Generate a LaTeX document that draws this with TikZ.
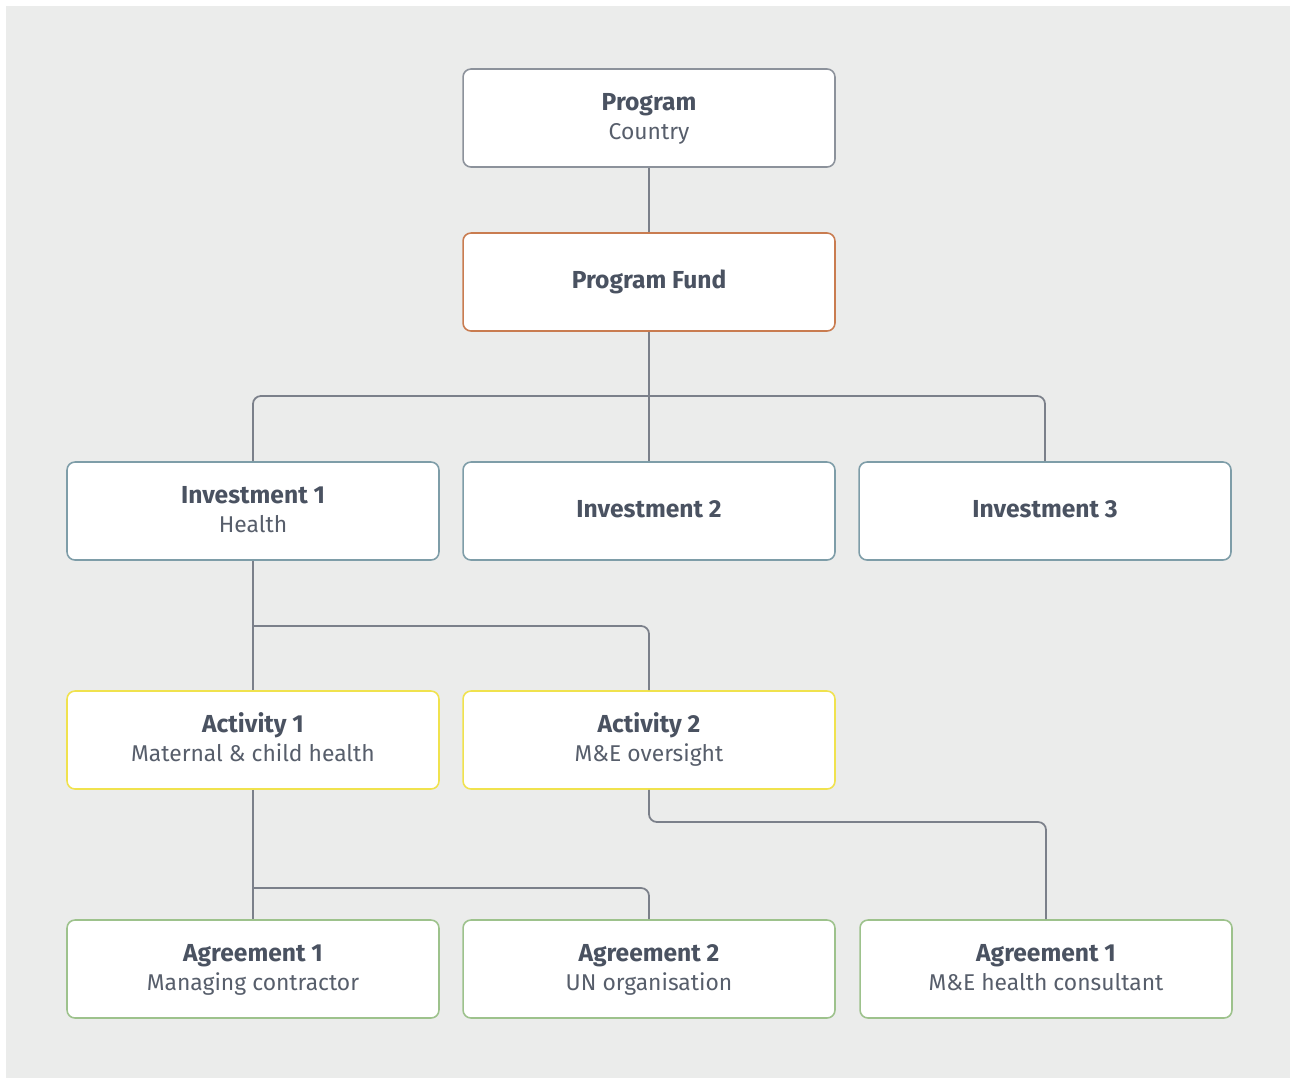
\documentclass[tikz,border=0pt]{standalone}
\usepackage{fontspec}
\setmainfont{Fira Sans}
\usepackage{tikz}

\definecolor{bggray}{HTML}{EBECEB}
\definecolor{linegray}{HTML}{7B808A}
\definecolor{txtdark}{HTML}{4A5261}
\definecolor{txtsub}{HTML}{575E6B}
\definecolor{progcol}{HTML}{8C929B}
\definecolor{fundcol}{HTML}{C97C50}
\definecolor{invcol}{HTML}{7E9DA8}
\definecolor{actcol}{HTML}{F0E24E}
\definecolor{agrcol}{HTML}{9DC28C}

\newcommand{\boxstrut}{\rule[-4.2pt]{0pt}{16.2pt}}

\begin{document}
\begin{tikzpicture}[x=0.02cm,y=-0.02cm,
  every node/.style={font=\fontsize{13}{16.5}\selectfont},
  box/.style={fill=white,rounded corners=4.5pt,line width=0.9pt,
    minimum width=7.44cm,minimum height=1.96cm,align=center,text=txtdark},
  link/.style={draw=linegray,line width=1pt,rounded corners=4.5pt}]
\newcommand{\orgbox}[6]{%
  \node[box,draw=#4] (#1) at (#2,#3)
    {\boxstrut{\fontsize{14}{16.5}\selectfont\bfseries #5}#6};}
\newcommand{\subline}[1]{\\\boxstrut\textcolor{txtsub}{#1}}

\fill[bggray] (6,6) rectangle (1290,1078);
\useasboundingbox (0,0) rectangle (1290,1079);

\orgbox{prog}{649}{118}{progcol}{Program}{\subline{Country}}
\orgbox{fund}{649}{282}{fundcol}{Program Fund}{}

\orgbox{inv1}{253}{511}{invcol}{Investment 1}{\subline{Health}}
\orgbox{inv2}{649}{511}{invcol}{Investment 2}{}
\orgbox{inv3}{1045}{511}{invcol}{Investment 3}{}

\orgbox{act1}{253}{740}{actcol}{Activity 1}{\subline{Maternal \& child health}}
\orgbox{act2}{649}{740}{actcol}{Activity 2}{\subline{M\&E oversight}}

\orgbox{agr1}{253}{969}{agrcol}{Agreement 1}{\subline{Managing contractor}}
\orgbox{agr2}{649}{969}{agrcol}{Agreement 2}{\subline{UN organisation}}
\orgbox{agr3}{1046}{969}{agrcol}{Agreement 1}{\subline{M\&E health consultant}}

% junctions
\coordinate (fundsplit) at (649,396);
\coordinate (invsplit) at (253,626);
\coordinate (act1split) at (253,888);
\coordinate (act2split) at (649,822);

\draw[link] (prog) -- (fund);
\draw[link] (fund) -- (inv2);
\draw[link] (inv1.north) |- (fundsplit) -| (inv3.north);
\draw[link] (inv1) -- (act1);
\draw[link] (invsplit) -| (act2.north);
\draw[link] (act1) -- (agr1);
\draw[link] (act1split) -| (agr2.north);
\draw[link] (act2.south) -- (act2split) -| (agr3.north);
\end{tikzpicture}
\end{document}
